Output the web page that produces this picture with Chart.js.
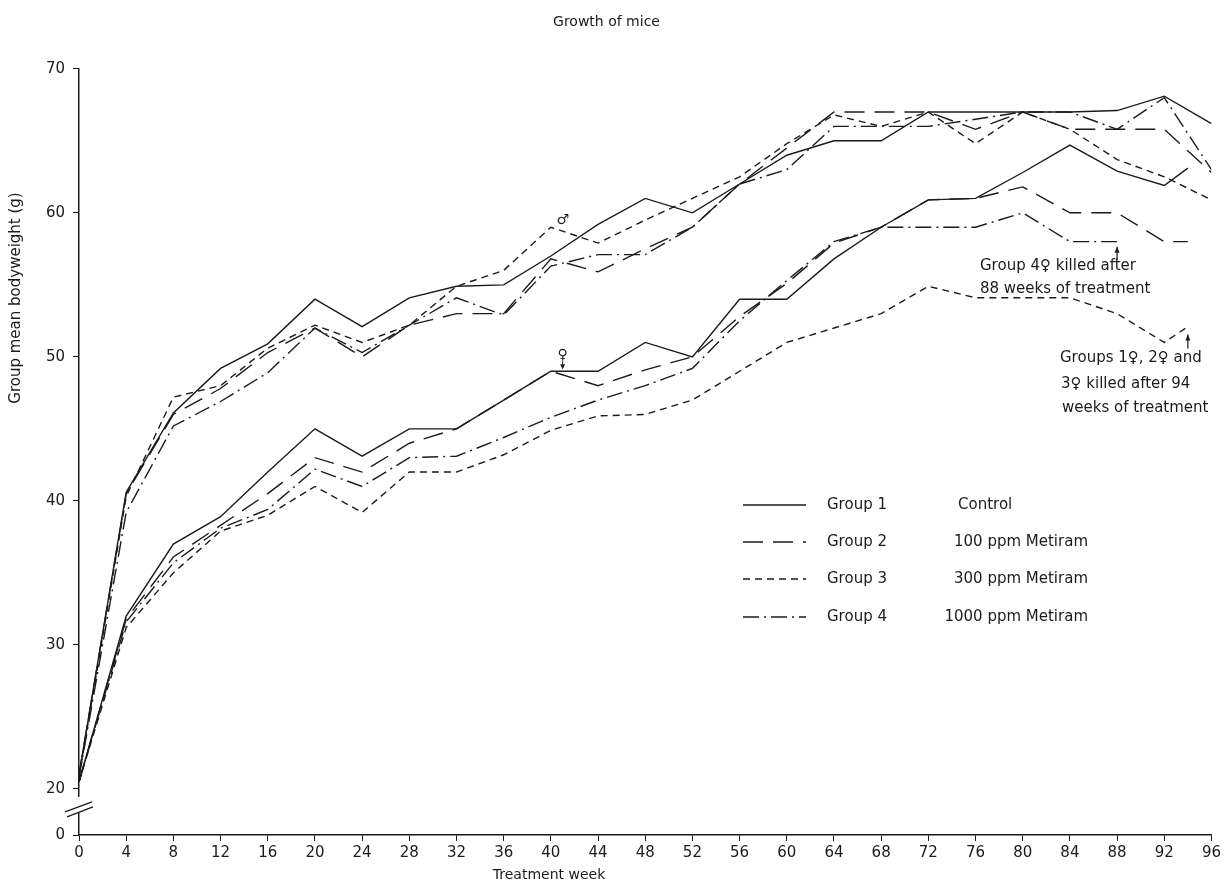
<!DOCTYPE html>
<html>
<head>
<meta charset="utf-8">
<script src="https://cdn.jsdelivr.net/npm/chart.js@4"></script>
<style>
  body { margin: 0; background: #fff; }
  #caixa { width: 1224px; height: 886px; position: relative; }
</style>
</head>
<body>
<div id="caixa"><canvas id="grafico"></canvas></div>
<script>
// semanas de tratamento
const semanas = [0, 4, 8, 12, 16, 20, 24, 28, 32, 36, 40, 44, 48, 52, 56, 60, 64, 68, 72, 76, 80, 84, 88, 92, 96];
const semanasFemea = [0, 4, 8, 12, 16, 20, 24, 28, 32, 36, 40, 44, 48, 52, 56, 60, 64, 68, 72, 76, 80, 84, 88, 92, 94];
const semanasFemea4 = [0, 4, 8, 12, 16, 20, 24, 28, 32, 36, 40, 44, 48, 52, 56, 60, 64, 68, 72, 76, 80, 84, 88];

// machos (g)
const machoG1 = [21, 40.6, 46.1, 49.2, 50.9, 54, 52.1, 54.1, 54.9, 55, 57, 59.2, 61, 60, 62, 64, 65, 65, 67, 67, 67, 67, 67.1, 68.1, 66.2];
const machoG2 = [21, 40.5, 46, 47.8, 50.3, 52, 50, 52.2, 53, 53, 56.8, 55.9, 57.5, 59, 62, 64.5, 67, 67, 67, 65.8, 67, 65.8, 65.8, 65.8, 62.8];
const machoG3 = [20.8, 40.3, 47.2, 48, 50.6, 52.2, 51, 52.2, 54.9, 56, 59, 57.9, 59.5, 61, 62.5, 64.8, 66.8, 66, 67, 64.8, 67, 65.8, 63.7, 62.5, 60.9];
const machoG4 = [20.8, 39.2, 45.2, 46.9, 48.9, 52, 50.3, 52.2, 54.1, 52.9, 56.3, 57.1, 57.1, 59, 62, 63, 66, 66, 66, 66.5, 67, 67, 65.8, 68, 63];

// femeas (g)
const femeaG1 = [20.5, 32, 37, 38.9, 42, 45, 43.1, 45, 45, 47, 49, 49, 51, 50, 54, 54, 56.8, 59, 60.9, 61, 62.8, 64.7, 62.9, 61.9, 63.1];
const femeaG2 = [20.5, 31.8, 36.1, 38.3, 40.5, 43, 42, 44, 45, 47, 49, 48, 49.1, 50, 52.8, 55.1, 57.9, 59, 60.9, 61, 61.8, 60, 60, 58, 58];
const femeaG3 = [20.5, 31.2, 35, 37.9, 39, 41, 39.2, 42, 42, 43.2, 44.9, 45.9, 46, 47, 49, 51, 52, 53, 54.9, 54.1, 54.1, 54.1, 53, 51, 52.1];
const femeaG4 = [20.5, 31.6, 35.7, 38.1, 39.4, 42.2, 41, 43, 43.1, 44.4, 45.8, 47, 48, 49.2, 52.5, 55.3, 58, 59, 59, 59, 60, 58, 58];

const grupos = ['Group 1', 'Group 2', 'Group 3', 'Group 4'];
const tratamentos = ['Control', '100 ppm Metiram', '300 ppm Metiram', '1000 ppm Metiram'];

const yZero = 16.8; // onde o "0" fica depois da quebra do eixo
const cor = '#1b1b1b';
const fonte = "'DejaVu Sans', sans-serif";
const tracos = [[], [20, 10], [7, 5], [16, 5, 2, 5]];

function pontos(xs, ys) {
  return ys.map((v, i) => ({ x: xs[i], y: v }));
}

function serie(nome, xs, ys, g) {
  return {
    label: nome,
    data: pontos(xs, ys),
    borderColor: cor,
    borderWidth: 1.4,
    borderDash: tracos[g],
    pointRadius: 0,
    tension: 0,
    fill: false
  };
}

const dados = {
  datasets: [
    serie('Group 1 ♂', semanas, machoG1, 0),
    serie('Group 2 ♂', semanas, machoG2, 1),
    serie('Group 3 ♂', semanas, machoG3, 2),
    serie('Group 4 ♂', semanas, machoG4, 3),
    serie('Group 1 ♀', semanasFemea, femeaG1, 0),
    serie('Group 2 ♀', semanasFemea, femeaG2, 1),
    serie('Group 3 ♀', semanasFemea, femeaG3, 2),
    serie('Group 4 ♀', semanasFemea4, femeaG4, 3)
  ]
};

function seta(ctx, x, y1, y2) {
  // seta vertical apontando para cima (y2 < y1)
  ctx.beginPath();
  ctx.moveTo(x, y1); ctx.lineTo(x, y2);
  ctx.stroke();
  ctx.beginPath();
  ctx.moveTo(x, y2); ctx.lineTo(x - 2.5, y2 + 6); ctx.lineTo(x + 2.5, y2 + 6);
  ctx.closePath(); ctx.fill();
}

// quebra do eixo, legenda, titulos dos eixos e anotacoes
const extras = {
  id: 'extras',
  afterDraw(chart) {
    const { ctx, chartArea, scales: { x, y } } = chart;
    ctx.save();
    const eixo = chartArea.left;
    const y20 = y.getPixelForValue(20);

    ctx.fillStyle = '#fff';
    ctx.fillRect(eixo - 3, y20 + 8, 6, 16);
    ctx.strokeStyle = cor;
    ctx.fillStyle = cor;
    ctx.lineWidth = 1.3;
    ctx.beginPath();
    ctx.moveTo(eixo - 14, y20 + 23); ctx.lineTo(eixo + 13, y20 + 13);
    ctx.moveTo(eixo - 12, y20 + 28); ctx.lineTo(eixo + 14, y20 + 18);
    ctx.stroke();

    // titulos dos eixos
    ctx.font = '14px ' + fonte;
    ctx.textAlign = 'center';
    ctx.textBaseline = 'middle';
    ctx.fillText('Treatment week', 549, 875);
    ctx.save();
    ctx.font = '15px ' + fonte;
    ctx.translate(16, 298);
    ctx.rotate(-Math.PI / 2);
    ctx.fillText('Group mean bodyweight (g)', 0, 0);
    ctx.restore();

    // legenda
    const linhas = [505, 542, 579, 617];
    ctx.textAlign = 'left';
    ctx.font = '15px ' + fonte;
    for (let i = 0; i < 4; i++) {
      ctx.setLineDash(tracos[i]);
      ctx.lineWidth = 1.4;
      ctx.beginPath();
      ctx.moveTo(743, linhas[i]); ctx.lineTo(806, linhas[i]);
      ctx.stroke();
      ctx.setLineDash([]);
      ctx.fillText(grupos[i], 827, linhas[i]);
      if (i == 0) {
        ctx.textAlign = 'left';
        ctx.fillText(tratamentos[i], 958, linhas[i]);
      } else {
        ctx.textAlign = 'right';
        ctx.fillText(tratamentos[i], 1088, linhas[i]);
      }
      ctx.textAlign = 'left';
    }

    // simbolos de sexo
    ctx.font = '14px ' + fonte;
    ctx.textAlign = 'center';
    const xm = x.getPixelForValue(41);
    ctx.fillText('♂', xm, y.getPixelForValue(machoG3[10]) - 7);
    const yf = y.getPixelForValue(femeaG1[10]);
    ctx.fillText('♀', xm, yf - 16);
    ctx.lineWidth = 1;
    ctx.beginPath();
    ctx.moveTo(xm, yf - 10); ctx.lineTo(xm, yf - 3);
    ctx.stroke();
    ctx.beginPath();
    ctx.moveTo(xm, yf - 2); ctx.lineTo(xm - 2.5, yf - 7); ctx.lineTo(xm + 2.5, yf - 7);
    ctx.closePath(); ctx.fill();

    // anotacoes de sacrificio
    ctx.font = '15px ' + fonte;
    ctx.textAlign = 'left';
    ctx.lineWidth = 1.2;
    const x88 = x.getPixelForValue(88);
    const y88 = y.getPixelForValue(femeaG4[22]);
    seta(ctx, x88, y88 + 18, y88 + 5);
    ctx.fillText('Group 4♀ killed after', 980, 266);
    ctx.fillText('88 weeks of treatment', 980, 289);

    const x94 = x.getPixelForValue(94);
    const y94 = y.getPixelForValue(femeaG3[24]);
    seta(ctx, x94, y94 + 22, y94 + 8);
    ctx.fillText('Groups 1♀, 2♀ and', 1060, 358);
    ctx.fillText('3♀ killed after 94', 1061, 384);
    ctx.fillText('weeks of treatment', 1062, 408);

    ctx.restore();
  }
};

const opcoes = {
  responsive: true,
  maintainAspectRatio: false,
  animation: false,
  layout: { padding: { left: 0, right: 11, top: 0, bottom: 0 } },
  plugins: {
    legend: { display: false },
    tooltip: { enabled: false },
    title: {
      display: true,
      text: 'Growth of mice',
      color: cor,
      font: { family: fonte, size: 14, weight: 'normal' },
      padding: { top: 14, bottom: 38 }
    }
  },
  scales: {
    x: {
      type: 'linear',
      min: 0,
      max: 96,
      afterFit: (s) => { s.height = 51; },
      border: { color: cor, width: 1.5 },
      grid: { drawOnChartArea: false, drawTicks: true, tickLength: 6, color: cor },
      ticks: { stepSize: 4, color: cor, padding: 3, font: { family: fonte, size: 15 } }
    },
    y: {
      type: 'linear',
      min: yZero,
      max: 70,
      afterFit: (s) => { s.width = 79; },
      afterBuildTicks: (s) => {
        s.ticks = [yZero, 20, 30, 40, 50, 60, 70].map(v => ({ value: v }));
      },
      border: { color: cor, width: 1.5 },
      grid: { drawOnChartArea: false, drawTicks: true, tickLength: 6, color: cor },
      ticks: {
        color: cor,
        padding: 8,
        font: { family: fonte, size: 15 },
        callback: (v) => v == yZero ? '0' : v
      }
    }
  }
};

let meuGrafico = new Chart(document.getElementById('grafico'), {
  type: 'line',
  data: dados,
  options: opcoes,
  plugins: [extras]
});
</script>
</body>
</html>
